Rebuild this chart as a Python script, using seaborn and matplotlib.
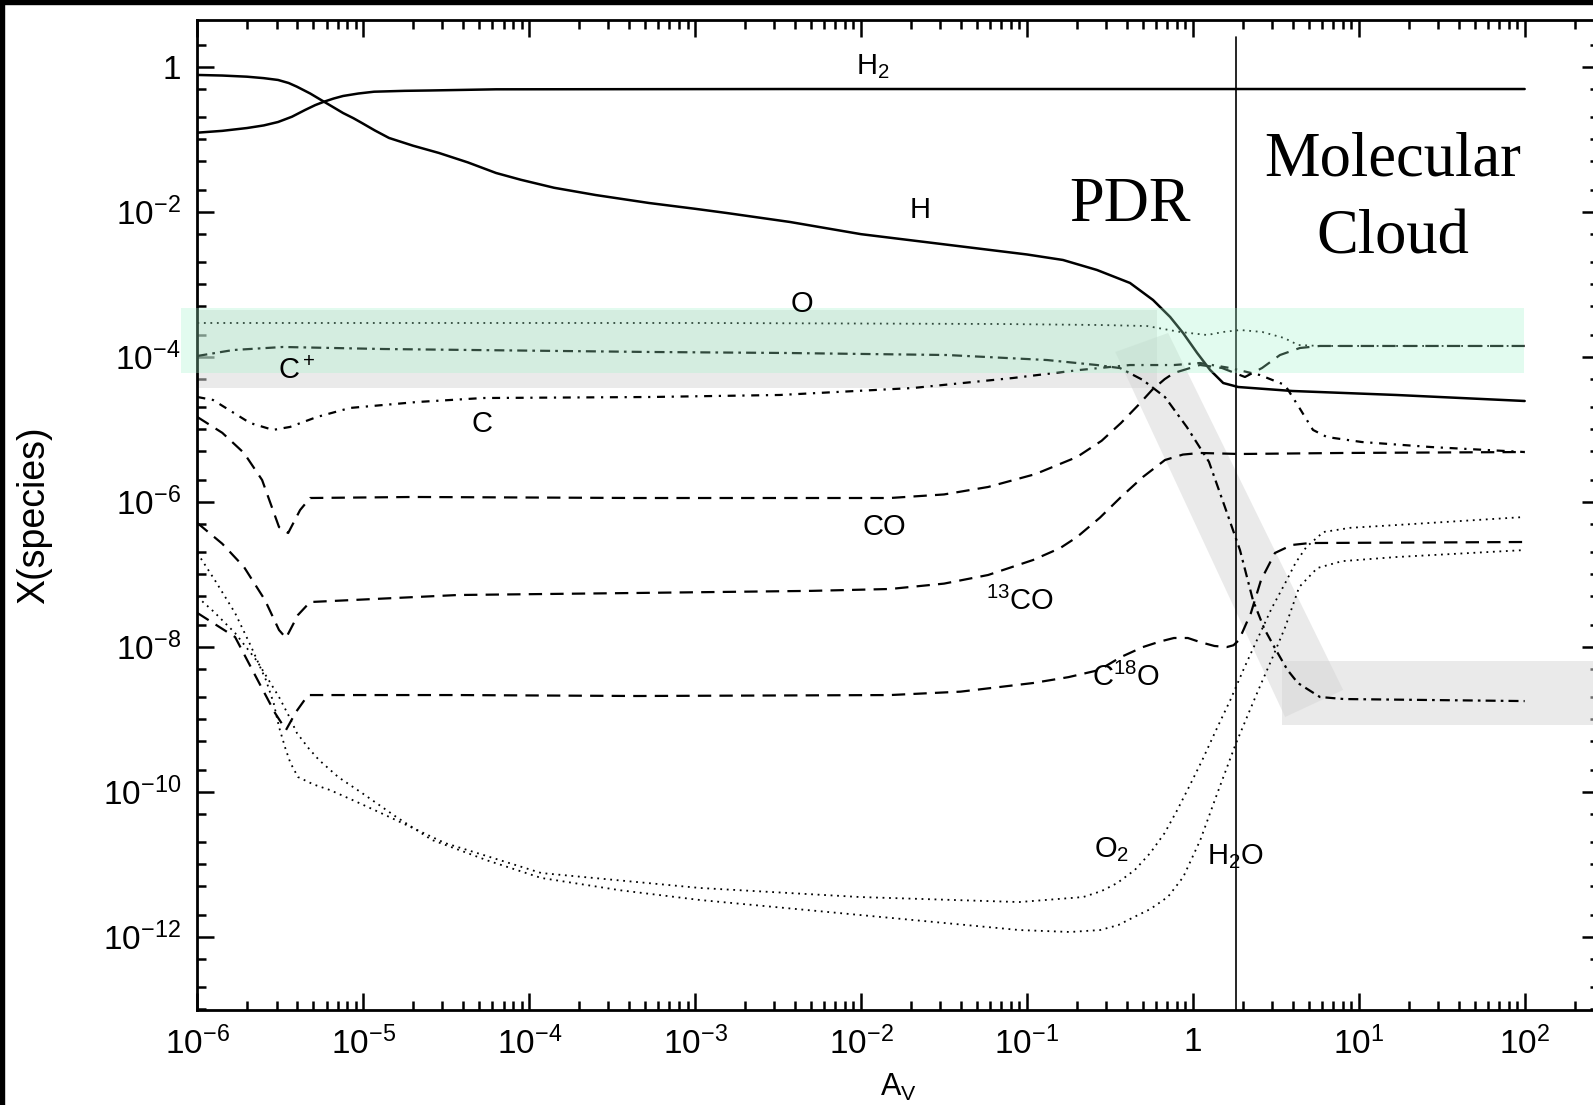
import numpy as np
import pandas as pd
import matplotlib
matplotlib.use('Agg')
import matplotlib.pyplot as plt
from matplotlib.patches import Polygon, Rectangle
from matplotlib.ticker import FixedLocator, FixedFormatter, LogLocator, NullFormatter
import seaborn as sns

# abundances, as log10(A_V) and log10(X)
h2_lx = [-6.0, -5.85, -5.701, -5.6, -5.514, -5.43, -5.351, -5.29, -5.237, -5.18, -5.122, -5.03,
         -4.935, -4.75, -4.597, -4.2, -2.428, 2.0]
h2_ly = [-0.910, -0.885, -0.846, -0.81, -0.763, -0.69, -0.597, -0.53, -0.483, -0.44, -0.404, -0.37,
         -0.345, -0.333, -0.328, -0.312, -0.308, -0.308]

h_lx = [-6.0, -5.85, -5.701, -5.6, -5.514, -5.45, -5.4, -5.32, -5.237, -5.18, -5.122, -5.06, -5.008,
        -4.93, -4.845, -4.7, -4.544, -4.37, -4.2, -4.05, -3.85, -3.6, -3.278, -3.0, -2.81, -2.428,
        -2.0, -1.5, -1.0, -0.783, -0.578, -0.379, -0.24, -0.137, -0.059, 0.026, 0.104, 0.183,
        0.273, 0.599, 1.226, 2.0]
h_ly = [-0.114, -0.122, -0.138, -0.158, -0.183, -0.225, -0.276, -0.37, -0.483, -0.56, -0.639, -0.71, -0.777,
        -0.88, -0.983, -1.09, -1.19, -1.32, -1.466, -1.56, -1.67, -1.77, -1.88, -1.96, -2.018, -2.142,
        -2.31, -2.45, -2.59, -2.666, -2.804, -2.983, -3.218, -3.452, -3.673, -3.949, -4.183, -4.363,
        -4.418, -4.473, -4.528, -4.611]

o_lx = [-6.0, -2.97, -1.162, -0.559, -0.276, -0.077, 0.086, 0.183, 0.285, 0.418, 0.55, 0.635, 0.767, 2.0]
o_ly = [-3.535, -3.535, -3.549, -3.563, -3.577, -3.659, -3.701, -3.659, -3.632, -3.659, -3.742, -3.839, -3.852, -3.852]

cp_lx = [-6.0, -5.785, -5.484, -4.881, -3.272, -2.446, -1.481, -0.879, -0.578, -0.439, -0.301, -0.168,
         -0.036, 0.097, 0.205, 0.284, 0.362, 0.43, 0.501, 0.57, 0.633, 0.766, 0.911, 2.0]
cp_ly = [-3.99, -3.908, -3.866, -3.894, -3.935, -3.949, -3.977, -4.046, -4.115, -4.157, -4.322, -4.557,
         -4.971, -5.45, -6.15, -6.667, -7.357, -7.75, -8.046, -8.32, -8.501, -8.694, -8.722, -8.75]

c_lx = [-6.0, -5.906, -5.683, -5.544, -5.442, -5.279, -5.08, -4.676, -4.278, -3.272, -2.489, -1.688,
        -1.085, -0.681, -0.379, -0.114, 0.043, 0.224, 0.404, 0.555, 0.639, 0.724, 0.808, 1.019, 1.435, 2.0]
c_ly = [-4.556, -4.597, -4.914, -5.01, -4.969, -4.831, -4.707, -4.625, -4.57, -4.556, -4.528, -4.432,
        -4.294, -4.183, -4.115, -4.115, -4.087, -4.156, -4.253, -4.39, -4.694, -5.01, -5.108, -5.177, -5.246, -5.315]

co_lx = [-6.0, -5.85, -5.719, -5.61, -5.508, -5.453, -5.381, -5.321, -4.7, -3.356, -1.825, -1.5, -1.234,
         -0.95, -0.698, -0.55, -0.433, -0.33, -0.246, -0.17, -0.114, 0.043, 0.176, 0.314, 0.417, 0.525,
         0.645, 0.766, 2.0]
co_ly = [-4.832, -5.05, -5.329, -5.701, -6.35, -6.432, -6.115, -5.949, -5.935, -5.949, -5.949, -5.9, -5.797,
         -5.62, -5.383, -5.16, -4.914, -4.67, -4.459, -4.31, -4.225, -4.114, -4.156, -4.28, -4.156, -3.977,
         -3.88, -3.852, -3.852]

co13_lx = [-6.0, -5.85, -5.719, -5.593, -5.508, -5.466, -5.394, -5.321, -4.429, -3.356, -2.3, -1.825, -1.5,
           -1.234, -0.963, -0.8, -0.698, -0.56, -0.433, -0.301, -0.168, -0.06, 0.043, 0.284, 0.899, 2.0]
co13_ly = [-6.294, -6.58, -6.901, -7.356, -7.77, -7.88, -7.563, -7.384, -7.287, -7.259, -7.23, -7.204, -7.13,
           -7.011, -6.804, -6.64, -6.487, -6.22, -5.935, -5.659, -5.425, -5.35, -5.328, -5.342, -5.328, -5.315]

c18o_lx = [-6.0, -5.773, -5.653, -5.532, -5.466, -5.406, -5.333, -4.429, -3.356, -1.825, -1.4, -0.963,
           -0.75, -0.565, -0.433, -0.301, -0.2, -0.114, -0.03, 0.043, 0.13, 0.205, 0.245, 0.278, 0.35,
           0.411, 0.495, 0.597, 0.706, 2.0]
c18o_ly = [-7.535, -7.866, -8.39, -8.915, -9.149, -8.901, -8.667, -8.667, -8.68, -8.667, -8.62, -8.501,
           -8.42, -8.322, -8.142, -8.005, -7.93, -7.88, -7.88, -7.936, -7.99, -8.005, -7.98, -7.908, -7.535,
           -7.08, -6.707, -6.597, -6.57, -6.556]

o2_lx = [-6.0, -5.89, -5.773, -5.68, -5.587, -5.54, -5.508, -5.47, -5.44, -5.394, -5.3, -5.201, -5.05,
         -4.894, -4.508, -3.927, -2.97, -2.005, -1.047, -0.661, -0.55, -0.456, -0.35, -0.257, -0.17,
         -0.094, -0.02, 0.057, 0.14, 0.226, 0.31, 0.395, 0.475, 0.557, 0.62, 0.684, 0.787, 0.95, 1.227, 2.0]
o2_ly = [-6.708, -7.1, -7.535, -7.98, -8.459, -8.78, -9.108, -9.4, -9.6, -9.797, -9.9, -9.977, -10.13,
         -10.294, -10.708, -11.122, -11.328, -11.453, -11.522, -11.453, -11.37, -11.26, -11.08, -10.846, -10.57,
         -10.253, -9.92, -9.563, -9.15, -8.735, -8.29, -7.866, -7.47, -7.121, -6.84, -6.625, -6.418, -6.36,
         -6.322, -6.211]

h2o_lx = [-6.0, -5.9, -5.773, -5.64, -5.508, -5.45, -5.4, -5.33, -5.267, -5.15, -5.008, -4.8, -4.586,
          -4.25, -3.927, -3.45, -2.97, -2.005, -1.047, -0.74, -0.559, -0.45, -0.354, -0.257, -0.15,
          -0.058, 0.045, 0.148, 0.256, 0.33, 0.395, 0.48, 0.557, 0.641, 0.75, 0.9, 1.227, 2.0]
h2o_ly = [-7.314, -7.52, -7.811, -8.2, -8.694, -8.95, -9.191, -9.4, -9.563, -9.8, -10.018, -10.35, -10.666,
          -10.95, -11.19, -11.36, -11.494, -11.701, -11.908, -11.935, -11.908, -11.84, -11.728, -11.62, -11.45,
          -11.177, -10.666, -10.018, -9.356, -8.95, -8.597, -8.15, -7.728, -7.177, -6.915, -6.82, -6.763, -6.667]

x_major = [-6, -5, -4, -3, -2, -1, 0, 1, 2]
x_labels = ['$10^{-6}$', '$10^{-5}$', '$10^{-4}$', '$10^{-3}$', '$10^{-2}$', '$10^{-1}$', '1', '$10^{1}$', '$10^{2}$']
y_major = [0, -2, -4, -6, -8, -10, -12]
y_labels = ['1', '$10^{-2}$', '$10^{-4}$', '$10^{-6}$', '$10^{-8}$', '$10^{-10}$', '$10^{-12}$']

av_boundary = 1.82

sns.set_theme(style='ticks', rc={'axes.edgecolor': 'black', 'text.color': 'black',
                                 'xtick.color': 'black', 'ytick.color': 'black',
                                 'axes.labelcolor': 'black'})
plt.rcParams['font.family'] = ['Liberation Sans', 'DejaVu Sans']
plt.rcParams['mathtext.fontset'] = 'custom'
plt.rcParams['mathtext.rm'] = 'Liberation Sans'
plt.rcParams['mathtext.it'] = 'Liberation Sans:italic'
plt.rcParams['mathtext.bf'] = 'Liberation Sans:bold'

W, H = 1593, 1105
fig = plt.figure(figsize=(W / 100, H / 100), dpi=100)
fig.patch.set_facecolor('white')
ax = fig.add_axes([197.4 / W, 95 / H, (1599 - 197.4) / W, 990 / H])
ax.set_xscale('log')
ax.set_yscale('log')
ax.set_xlim(1e-6, 10 ** 2.448)
ax.set_ylim(10 ** -13.011, 10 ** 0.644)

# shaded guides
gray_kw = dict(facecolor='#d6d6d6', alpha=0.5, edgecolor='none', zorder=1)
ax.add_patch(Polygon([(1e-6, 10 ** -3.36), (10 ** -0.216, 10 ** -3.36),
                      (10 ** -0.216, 10 ** -4.432), (1e-6, 10 ** -4.432)], **gray_kw))
ax.add_patch(Polygon([(10 ** -0.468, 10 ** -3.935), (10 ** -0.149, 10 ** -3.673),
                      (10 ** 0.906, 10 ** -8.597), (10 ** 0.556, 10 ** -8.97)], **gray_kw))
ax.add_patch(Polygon([(10 ** 0.538, 10 ** -8.2), (10 ** 2.45, 10 ** -8.2),
                      (10 ** 2.45, 10 ** -9.08), (10 ** 0.538, 10 ** -9.08)], **gray_kw))

dotted = (0, (1, 2.6))
dashed = (0, (6, 3.7))
curves = [
    (h2_lx, h2_ly, '-', 1.8),
    (h_lx, h_ly, '-', 1.8),
    (o_lx, o_ly, dotted, 1.3),
    (cp_lx, cp_ly, (0, (4.5, 2.3, 1.2, 2.3)), 1.6),
    (c_lx, c_ly, (0, (3.6, 3.0, 1.0, 3.0)), 1.6),
    (co_lx, co_ly, dashed, 1.6),
    (co13_lx, co13_ly, dashed, 1.6),
    (c18o_lx, c18o_ly, dashed, 1.6),
    (o2_lx, o2_ly, dotted, 1.3),
    (h2o_lx, h2o_ly, dotted, 1.3),
]
for lx, ly, ls, lw in curves:
    df = pd.DataFrame({'av': 10 ** np.array(lx), 'x': 10 ** np.array(ly)})
    sns.lineplot(data=df, x='av', y='x', ax=ax, color='black', lw=lw,
                 linestyle=ls, estimator=None, sort=False, zorder=3)

ax.plot([av_boundary, av_boundary], [10 ** -13.011, 10 ** 0.41], color='black', lw=1.2, zorder=4)

ax.add_patch(Polygon([(10 ** -6.099, 10 ** -3.33), (10 ** 1.996, 10 ** -3.33),
                      (10 ** 1.996, 10 ** -4.23), (10 ** -6.099, 10 ** -4.23)],
                     facecolor='#a2f5ca', alpha=0.3, edgecolor='none', zorder=5, clip_on=False))

# species labels
lab_kw = dict(fontsize=21, ha='center', va='center', zorder=6)
for txt, lx, ly in [('H$_2$', -1.93, 0.0), ('H', -1.645, -1.98), ('O', -2.356, -3.28),
                    ('C$^+$', -5.40, -4.2), ('C', -4.285, -4.93), ('CO', -1.86, -6.35),
                    ('$^{13}$CO', -1.04, -7.38), ('C$^{18}$O', -0.40, -8.42),
                    ('O$_2$', -0.49, -10.8), ('H$_2$O', 0.254, -10.9)]:
    ax.text(10 ** lx, 10 ** ly, txt, **lab_kw)

serif = dict(family=['Liberation Serif', 'DejaVu Serif'], fontsize=45, ha='center', va='center')
ax.text(10 ** -0.378, 10 ** -1.92, 'PDR', **serif)
ax.text(10 ** 1.207, 10 ** -1.83, 'Molecular\nCloud', linespacing=1.45, **serif)

ax.set_xlabel('A$_\\mathrm{V}$', fontsize=22, labelpad=8)
ax.set_ylabel('X(species)', fontsize=27, labelpad=36)

ax.xaxis.set_major_locator(FixedLocator([10.0 ** v for v in x_major]))
ax.xaxis.set_major_formatter(FixedFormatter(x_labels))
ax.xaxis.set_minor_locator(LogLocator(base=10, subs=np.arange(2, 10), numticks=100))
ax.xaxis.set_minor_formatter(NullFormatter())
ax.yaxis.set_major_locator(FixedLocator([10.0 ** v for v in y_major]))
ax.yaxis.set_major_formatter(FixedFormatter(y_labels))
y_minor = [m * 10.0 ** n for n in range(-14, 1) for m in (2, 5)] + [10.0 ** n for n in range(-13, 1, 2)]
ax.yaxis.set_minor_locator(FixedLocator(y_minor))
ax.yaxis.set_minor_formatter(NullFormatter())

ax.tick_params(which='both', direction='in', top=True, right=True, width=1.8, labelsize=24)
ax.tick_params(which='major', length=12, pad=12)
ax.tick_params(which='minor', length=6.5)
for s in ax.spines.values():
    s.set_linewidth(2)
    s.set_color('black')

# black frame strips of the scanned image
fig.add_artist(Rectangle((0, 1 - 4 / H), 1, 4 / H, transform=fig.transFigure, color='black', zorder=10))
fig.add_artist(Rectangle((0, 0), 4 / W, 1, transform=fig.transFigure, color='black', zorder=10))

fig.savefig('out.png', dpi=100, facecolor='white')
